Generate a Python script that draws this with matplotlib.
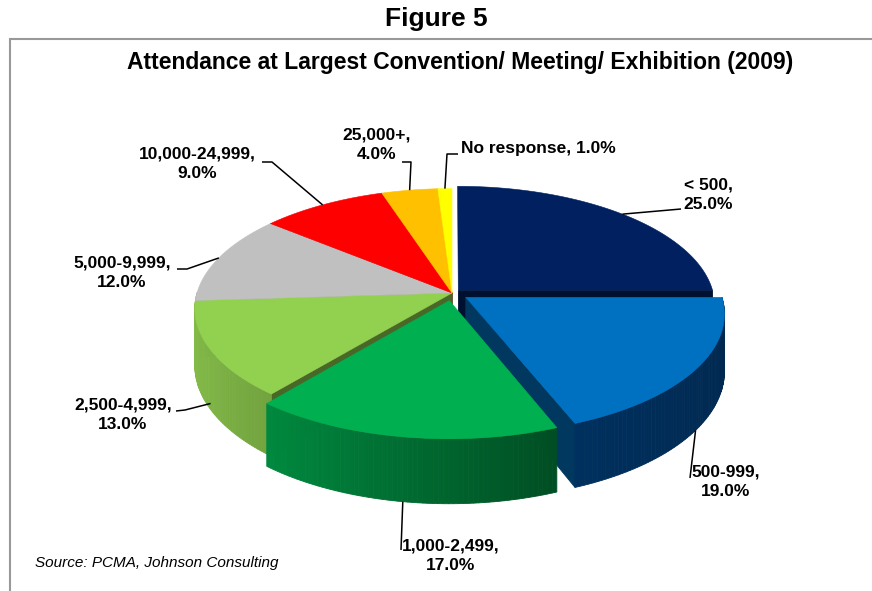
import numpy as np
import matplotlib.pyplot as plt
from matplotlib.patches import Polygon
from matplotlib.colors import to_rgb

# data
categories = ['< 500', '500-999', '1,000-2,499', '2,500-4,999', '5,000-9,999',
              '10,000-24,999', '25,000+', 'No response']
shares = [25.0, 19.0, 17.0, 13.0, 12.0, 9.0, 4.0, 1.0]
colors = ['#002060', '#0070C0', '#00B050', '#92D050', '#C0C0C0',
          '#FF0000', '#FFC000', '#FFFF00']
explode = [0.035, 0.065, 0.065, 0, 0, 0, 0, 0]

# side wall colours: base colour, level and slope of the shading across the pie
wall_colors = ['#002060', '#00305E', '#00B050', '#92D050', '#C0C0C0',
               '#FF0000', '#FFC000', '#FFFF00']
wall_shade = [(0.5, 0.0), (1.1, 0.25), (0.565, 0.337), (0.565, 0.337),
              (0.565, 0.337), (0.565, 0.337), (0.565, 0.337), (0.565, 0.337)]

# layout of the labels: anchor depth on the wall, leader path, text position
label_depth = [0, 1, 1, 0.9, 0, 0, 0, 0]
leader_paths = [
    [(681, 209)],
    [(690, 478)],
    [(401, 550)],
    [(185, 410), (176, 411)],
    [(187, 269), (177, 269)],
    [(272, 162), (262, 162)],
    [(411, 162), (402, 162)],
    [(447, 154), (458, 154)],
]
text_pos = [(708, 195, 'center'), (726, 482, 'center'), (451, 556, 'center'),
            (123, 415, 'center'), (122, 273, 'center'), (197, 164, 'center'),
            (377, 145, 'center'), (461, 149, 'left')]

plt.rcParams['font.family'] = ['Liberation Sans', 'DejaVu Sans']

W, H = 872, 591
fig = plt.figure(figsize=(W / 100, H / 100), dpi=100)
ax = fig.add_axes([0, 0, 1, 1])
ax.set_xlim(0, W)
ax.set_ylim(H, 0)
ax.axis('off')

# pie geometry (pixels)
CX, CY, RX, RY, DEPTH, PERSP = 452, 293, 255, 118, 56, 0.13


def project(theta, r, z, off):
    u = r * np.sin(theta) + off[0]
    v = -r * np.cos(theta) + off[1]
    s = 1.0 / (1.0 - PERSP * v)
    return CX + RX * u * s, CY + (RY * v + DEPTH * z) * s


def shade(color, k):
    return tuple(min(1.0, max(0.0, c * k)) for c in to_rgb(color))


total = sum(shares)
bounds = np.concatenate([[0], np.cumsum(shares)]) / total * 2 * np.pi

walls = []   # (depth key, polygon points, color)
tops = []
anchors = []
for i, (val, col, ex) in enumerate(zip(shares, colors, explode)):
    t0, t1 = bounds[i], bounds[i + 1]
    mid = (t0 + t1) / 2
    off = (ex * np.sin(mid), -ex * np.cos(mid))
    ts = np.linspace(t0, t1, max(3, int(np.degrees(t1 - t0)) + 2))

    # top face
    cx0, cy0 = project(0, 0, 0, off)
    pts = [(cx0, cy0)] + [project(t, 1, 0, off) for t in ts]
    tops.append((pts, col))

    # outer wall, front half only, shaded by horizontal position
    a0, b0 = wall_shade[i]
    for a, b in zip(ts[:-1], ts[1:]):
        m = (a + b) / 2
        if -np.cos(m) <= 0:
            continue
        k = a0 - b0 * np.sin(m)
        quad = [project(a, 1, 0, off), project(b, 1, 0, off),
                project(b, 1, 1, off), project(a, 1, 1, off)]
        walls.append((-np.cos(m) + 0.02, quad, shade(wall_colors[i], k)))

    # radial walls facing the viewer
    for t, vis in ((t0, -np.sin(t0) > 1e-6), (t1, np.sin(t1) > 1e-6)):
        if vis:
            quad = [project(t, 0, 0, off), project(t, 1, 0, off),
                    project(t, 1, 1, off), project(t, 0, 1, off)]
            walls.append((-np.cos(t) * 0.5, quad, shade(col, 0.5)))

    anchors.append(project(mid, 1, label_depth[i], off))

for key, quad, c in sorted(walls, key=lambda w: w[0]):
    ax.add_patch(Polygon(quad, closed=True, facecolor=c, edgecolor=c, lw=0.6))
for pts, c in tops:
    ax.add_patch(Polygon(pts, closed=True, facecolor=c, edgecolor=c, lw=0.4))

# labels with leader lines
for i, cat in enumerate(categories):
    if cat == 'No response':
        txt = f'{cat}, {shares[i]:.1f}%'
    else:
        txt = f'{cat},\n{shares[i]:.1f}%'
    path = [anchors[i]] + leader_paths[i]
    xs, ys = zip(*path)
    ax.plot(xs, ys, color='black', lw=1.1, solid_capstyle='butt')
    tx, ty, ha = text_pos[i]
    ax.text(tx, ty, txt, ha=ha, va='center', multialignment='center',
            fontsize=12.5, fontweight='bold', linespacing=1.35)

# frame and titles
ax.plot([10, 10, W], [H, 39, 39], color='#999999', lw=1.5, solid_joinstyle='miter')
ax.text(436, 19, 'Figure 5', ha='center', va='center', fontsize=19, fontweight='bold')
ax.text(460, 62, 'Attendance at Largest Convention/ Meeting/ Exhibition (2009)',
        ha='center', va='center', fontsize=16.5, fontweight='bold')
ax.text(35, 563, 'Source: PCMA, Johnson Consulting', ha='left', va='center',
        fontsize=11, fontstyle='italic')

fig.savefig('out.png', dpi=100)
